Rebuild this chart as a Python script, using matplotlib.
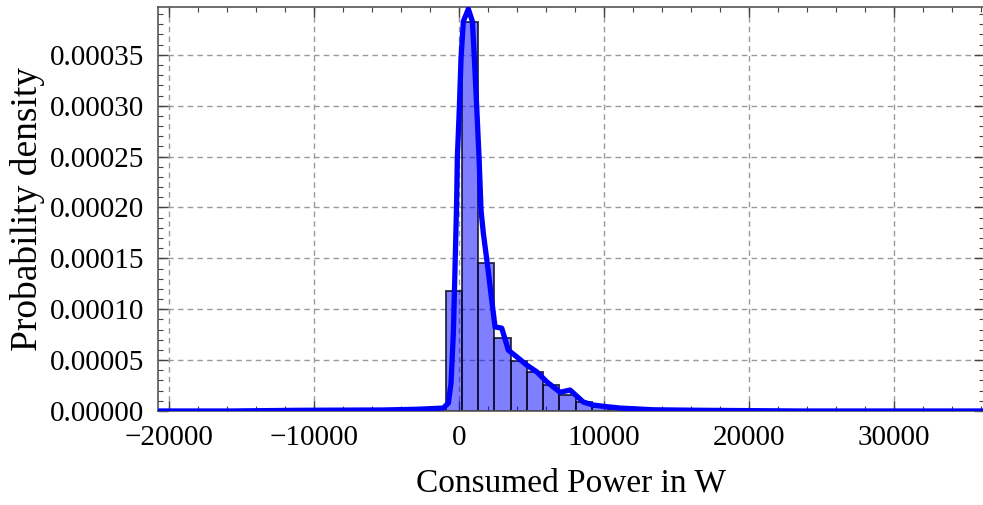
import matplotlib
matplotlib.use("Agg")
import matplotlib.pyplot as plt
from matplotlib.ticker import MultipleLocator, FormatStrFormatter

# ---- data ----
bin_left = [-920, 200, 1320, 2440, 3560, 4680, 5800, 6920, 8040, 9160, 10280]
bin_width = 1120
bin_density = [0.000118, 0.000382, 0.000145, 0.0000713, 0.000049, 0.000038,
               0.0000255, 0.000016, 0.000009, 0.0000042, 0.0000017]

kde_x = [-20760, -15793, -10966, -5241, -2897, -1083, -738, -552, -393, -276,
         -172, -117, 21, 138, 297, 641, 917, 1055, 1221, 1379, 1517, 1676,
         1979, 2255, 2483, 2945, 3400, 3979, 4669, 5359, 6048, 6966, 7655,
         8572, 9241, 9952, 11103, 13379, 16621, 23517, 36140]
kde_y = [0.0, 0.0, 0.0000007, 0.000001, 0.0000017, 0.0000029, 0.0000078,
         0.0000275, 0.0000765, 0.0001415, 0.000202, 0.000249, 0.000298,
         0.000347, 0.000383, 0.000395, 0.000383, 0.000347, 0.000298, 0.000249,
         0.000197, 0.0001745, 0.0001415, 0.0001088, 0.0000826, 0.0000814,
         0.0000598, 0.0000532, 0.0000451, 0.0000385, 0.0000287, 0.0000184,
         0.0000206, 0.0000088, 0.0000059, 0.0000046, 0.0000029, 0.0000012,
         0.0000007, 0.0, 0.0]

x_label = "Consumed Power in W"
y_label = "Probability density"

# ---- figure ----
plt.rcParams["font.family"] = ["Liberation Serif", "DejaVu Serif"]
fig = plt.figure(figsize=(9.83, 5.05), dpi=100)
ax = fig.add_axes([158 / 983, 1 - 411 / 505, 826 / 983, (411 - 7) / 505])

ax.bar(bin_left, bin_density, width=bin_width, align="edge",
       color=(0, 0, 1, 0.5), edgecolor=(0.05, 0.05, 0.15, 0.8), linewidth=1.4,
       zorder=2)
ax.plot(kde_x, kde_y, color="#0000ff", lw=3.8, zorder=3,
        solid_joinstyle="round", solid_capstyle="round")

ax.set_xlim(-20760, 36200)
ax.set_ylim(0, 0.000397)

ax.xaxis.set_major_locator(MultipleLocator(10000))
ax.xaxis.set_minor_locator(MultipleLocator(2000))
ax.yaxis.set_major_locator(MultipleLocator(0.00005))
ax.yaxis.set_minor_locator(MultipleLocator(0.00001))
ax.yaxis.set_major_formatter(FormatStrFormatter("%.5f"))

ax.tick_params(which="both", direction="in", top=True, right=True,
               colors="#444444", labelcolor="black", labelsize=21)
ax.tick_params(which="major", length=7, width=1.0, pad=10)
ax.tick_params(which="minor", length=3.5, width=0.8)
for s in ax.spines.values():
    s.set_color("#555555")
    s.set_linewidth(1.2)

ax.grid(True, which="major", linestyle=(0, (4, 3)), color="#9a9a9a", lw=1.0, zorder=0)
ax.set_axisbelow(True)

ax.set_xlabel(x_label, fontsize=24, labelpad=12)
ax.set_ylabel(y_label, fontsize=27, labelpad=3)

fig.savefig("out.png", dpi=100)
